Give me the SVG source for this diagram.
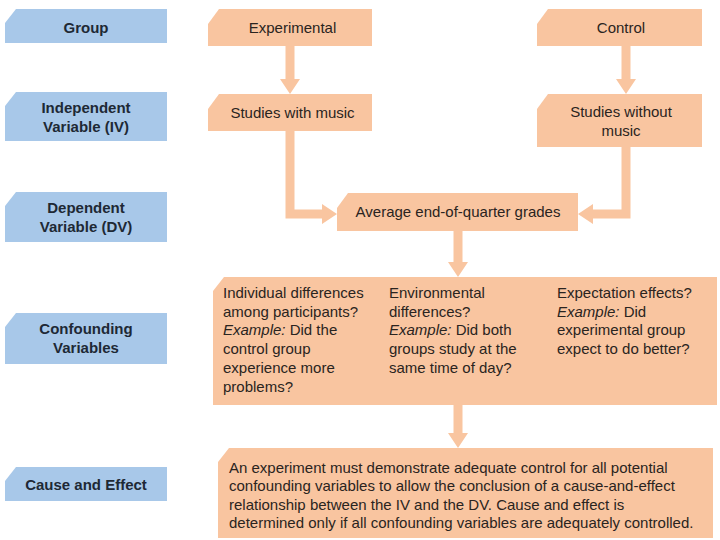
<svg xmlns="http://www.w3.org/2000/svg" width="720" height="540" viewBox="0 0 720 540">
<style>
.lab{fill:#a8c8e9}
.box{fill:#f9c5a0}
.arr{fill:#f9c5a0}
.lt{font-family:"Liberation Sans",Arial,sans-serif;font-size:15px;font-weight:bold;fill:#1e2935;text-anchor:middle}
.bt{font-family:"Liberation Sans",Arial,sans-serif;font-size:15px;fill:#2a2420}
.c{text-anchor:middle}
.i{font-style:italic}
</style>
<rect width="720" height="540" fill="#ffffff"/>
<g id="connectors">
<polygon class="arr" points="285.5,46 294.5,46 294.5,79 300,79 290,94 280,79 285.5,79"/>
<polygon class="arr" points="621.5,46 630.5,46 630.5,79 636,79 626,94 616,79 621.5,79"/>
<polygon class="arr" points="285.5,131 294.5,131 294.5,209.5 322,209.5 322,204 337,214 322,224 322,218.5 285.5,218.5"/>
<polygon class="arr" points="621.5,147 630.5,147 630.5,218.5 593,218.5 593,224 578,214 593,204 593,209.5 621.5,209.5"/>
<polygon class="arr" points="453.5,231 462.5,231 462.5,262 468,262 458,277 448,262 453.5,262"/>
<polygon class="arr" points="453.5,405 462.5,405 462.5,433 468,433 458,448 448,433 453.5,433"/>
</g>
<g id="label-group">
<path class="lab" d="M16,9 H167 V43 H5 V23 Z"/>
<text class="lt" x="86" y="32.5">Group</text>
</g>
<g id="label-iv">
<path class="lab" d="M16,92 H167 V141 H5 V106 Z"/>
<text class="lt" x="86" y="112.5">Independent</text>
<text class="lt" x="86" y="131.5">Variable (IV)</text>
</g>
<g id="label-dv">
<path class="lab" d="M16,192 H167 V242 H5 V206 Z"/>
<text class="lt" x="86" y="212.5">Dependent</text>
<text class="lt" x="86" y="231.5">Variable (DV)</text>
</g>
<g id="label-cv">
<path class="lab" d="M16,313 H167 V364 H5 V327 Z"/>
<text class="lt" x="86" y="334">Confounding</text>
<text class="lt" x="86" y="353">Variables</text>
</g>
<g id="label-ce">
<path class="lab" d="M16,467 H167 V501 H5 V481 Z"/>
<text class="lt" x="86" y="489.5">Cause and Effect</text>
</g>
<g id="node-experimental">
<path class="box" d="M219,9 H372 V46 H208 V24 Z"/>
<text class="bt c" x="292.5" y="32.5">Experimental</text>
</g>
<g id="node-control">
<path class="box" d="M548,9 H702 V46 H537 V24 Z"/>
<text class="bt c" x="621" y="32.5">Control</text>
</g>
<g id="node-music">
<path class="box" d="M219,94 H372 V131 H208 V109 Z"/>
<text class="bt c" x="292.5" y="118">Studies with music</text>
</g>
<g id="node-nomusic">
<path class="box" d="M548,94 H702 V147 H537 V109 Z"/>
<text class="bt c" x="621" y="116.5">Studies without</text>
<text class="bt c" x="621" y="135.5">music</text>
</g>
<g id="node-grades">
<path class="box" d="M348,193 H578 V231 H337 V208 Z"/>
<text class="bt c" x="458" y="217">Average end-of-quarter grades</text>
</g>
<g id="node-confounding">
<path class="box" d="M224,277 H717 V405 H213 V291 Z"/>
<text class="bt" x="223" y="298">Individual differences</text>
<text class="bt" x="223" y="316.7">among participants?</text>
<text class="bt" x="223" y="335.4"><tspan class="i">Example:</tspan> Did the</text>
<text class="bt" x="223" y="354">control group</text>
<text class="bt" x="223" y="372.8">experience more</text>
<text class="bt" x="223" y="391.5">problems?</text>
<text class="bt" x="389" y="298">Environmental</text>
<text class="bt" x="389" y="316.7">differences?</text>
<text class="bt" x="389" y="335.4"><tspan class="i">Example:</tspan> Did both</text>
<text class="bt" x="389" y="354">groups study at the</text>
<text class="bt" x="389" y="372.8">same time of day?</text>
<text class="bt" x="557" y="298">Expectation effects?</text>
<text class="bt" x="557" y="316.7"><tspan class="i">Example:</tspan> Did</text>
<text class="bt" x="557" y="335.4">experimental group</text>
<text class="bt" x="557" y="354">expect to do better?</text>
</g>
<g id="node-cause">
<path class="box" d="M229,448 H713 V538 H218 V462 Z"/>
<text class="bt" x="229" y="473">An experiment must demonstrate adequate control for all potential</text>
<text class="bt" x="229" y="491.3">confounding variables to allow the conclusion of a cause-and-effect</text>
<text class="bt" x="229" y="509.6">relationship between the IV and the DV. Cause and effect is</text>
<text class="bt" x="229" y="527.9">determined only if all confounding variables are adequately controlled.</text>
</g>
</svg>
